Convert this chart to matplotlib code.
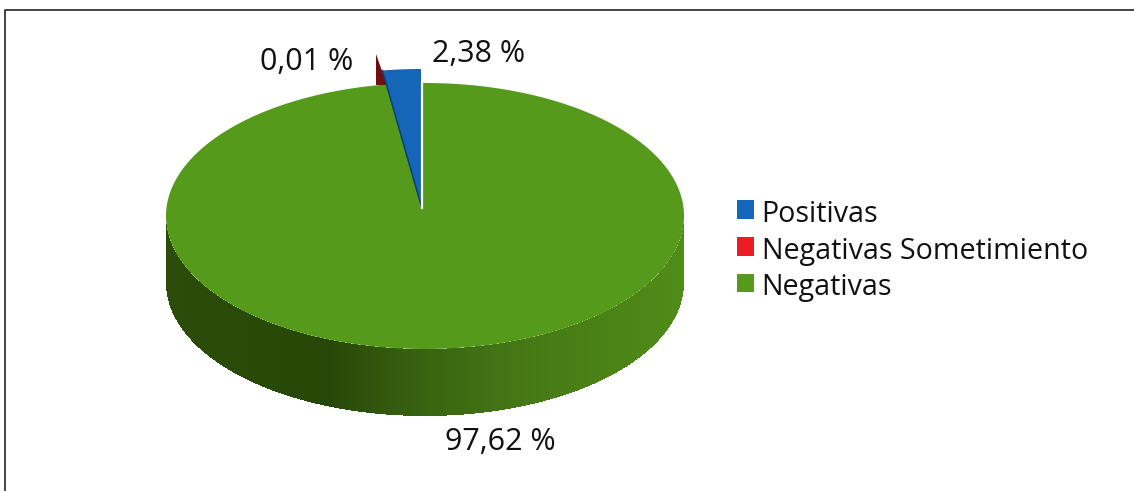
import numpy as np
import matplotlib
matplotlib.use("Agg")
import matplotlib.pyplot as plt
from matplotlib.patches import Polygon, Patch

categories = ["Positivas", "Negativas Sometimiento", "Negativas"]
values = [2.38, 0.01, 97.62]
value_labels = ["2,38 %", "0,01 %", "97,62 %"]
colors = ["#1565B8", "#ED1C24", "#559A1A"]

plt.rcParams["font.family"] = ["Open Sans", "DejaVu Sans"]
fig = plt.figure(figsize=(11.34, 4.91), dpi=100)
ax = fig.add_axes([0, 0, 1, 1])
ax.set_xlim(0, 1134)
ax.set_ylim(491, 0)
ax.axis("off")

# frame
ax.plot([5.3, 5.3, 1134], [491, 10.2, 10.2], color="#111111", lw=1.1, zorder=1)

cx, cy, rx, ry, depth = 425, 216, 259, 133, 67
bx, by, bry = 421, 205, 136
hx, hy = 422, 208

frac = np.array(values) / sum(values)
angle_blue = frac[0] * 2 * np.pi

# side wall of the large slice, shaded by position
side_stops_x = np.array([166, 330, 400, 520, 684])
side_stops = np.array([[0x2C, 0x4C, 0x0A], [0x27, 0x47, 0x08], [0x35, 0x5E, 0x0F],
                       [0x45, 0x78, 0x15], [0x50, 0x8C, 0x18]]) / 255
xs = np.arange(166, 684, 1.0)
for x in xs:
    t = np.sqrt(np.clip(1 - ((x + .5 - cx) / rx) ** 2, 0, 1))
    col = [np.interp(x, side_stops_x, side_stops[:, i]) for i in range(3)]
    ax.fill_between([x, x + 1.2], cy + ry * t, cy + ry * t + depth, color=col, lw=0, zorder=2)

# top of the large slice
th = np.linspace(0, 2 * np.pi, 720)
ax.add_patch(Polygon(np.c_[cx + rx * np.cos(th), cy + ry * np.sin(th)],
                     closed=True, fc=colors[2], ec="none", zorder=3))

# exploded small slice
a = np.linspace(0, angle_blue, 40)
pts = np.r_[[[bx, by]], np.c_[bx - rx * np.sin(a), by - bry * np.cos(a)]]
ax.add_patch(Polygon(pts, closed=True, fc=colors[0], ec="none", zorder=4))
ax.plot([pts[-1, 0], bx], [pts[-1, 1], by], color="#0E3F6E", lw=1.1, zorder=5)
ax.plot([hx, hx], [83, hy], color="white", lw=1.6, zorder=5)

# tiny slice shows only its dark side wall
a2 = angle_blue + frac[1] * 2 * np.pi
ex, ey = cx - 3 - rx * np.sin(a2), cy - ry * np.cos(a2)
ax.add_patch(Polygon([[ex - 7, ey - 30], [ex - 7, ey + 1], [ex + 4, ey + 1]],
                     closed=True, fc="#6D1015", ec="none", zorder=3.5))

fs = 20.6
fs_val = 22
ax.text(478.5, 54, value_labels[0], fontsize=fs_val, ha="center", va="center", color="#111111", zorder=6)
ax.text(306.5, 62, value_labels[1], fontsize=fs_val, ha="center", va="center", color="#111111", zorder=6)
ax.text(500, 442.5, value_labels[2], fontsize=fs_val, ha="center", va="center", color="#111111", zorder=6)

handles = [Patch(fc=c, ec="none") for c in colors]
leg = ax.legend(handles, categories, loc="center left", bbox_to_anchor=(737 / 1134, 1 - 251 / 491),
                frameon=False, fontsize=fs, handlelength=0.6, handleheight=0.6, handletextpad=0.26,
                labelspacing=0.276, borderpad=0, borderaxespad=0, labelcolor="#111111")
for h in leg.legend_handles:
    h.set_y(h.get_y() + 1.4)

fig.savefig("out.png", dpi=100)
